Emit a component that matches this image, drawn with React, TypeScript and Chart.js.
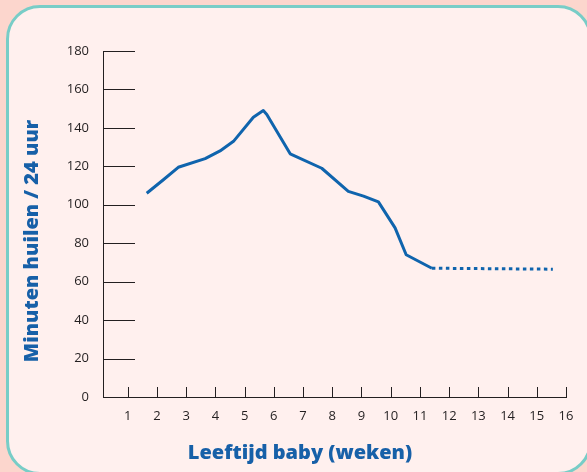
import React, { useEffect, useRef } from "react";
import { Chart, registerables } from "chart.js";

Chart.register(...registerables);

// ---- data ----
const solidWeeks = [1.65, 2.22, 2.73, 3.65, 4.16, 4.62, 5.3, 5.64, 5.76, 6.56, 7.64, 8.55, 9.07, 9.58, 10.15, 10.53, 11.41];
const solidMinutes = [106, 113, 119.5, 124, 128, 133, 145.5, 149, 147, 126.5, 119, 107, 104.5, 101.5, 88, 74, 67];
const dottedWeeks = [11.41, 15.55];
const dottedMinutes = [67, 66.5];
const weekTicks = [1, 2, 3, 4, 5, 6, 7, 8, 9, 10, 11, 12, 13, 14, 15, 16];
const minuteTicks = [0, 20, 40, 60, 80, 100, 120, 140, 160, 180];
const xTitle = "Leeftijd baby (weken)";
const yTitle = "Minuten huilen / 24 uur";

const LINE = "#0f64ad";
const TITLE = "#1760a8";
const INK = "#231f20";

const tickMarks = {
  id: "tickMarks",
  afterDraw(chart: any) {
    const { ctx, chartArea, scales } = chart;
    ctx.save();
    ctx.strokeStyle = INK;
    ctx.lineWidth = 1;
    ctx.beginPath();
    for (const v of minuteTicks) {
      if (v === 0) continue;
      const y = Math.round(scales.y.getPixelForValue(v)) + 0.5;
      ctx.moveTo(chartArea.left, y);
      ctx.lineTo(chartArea.left + 32, y);
    }
    for (const w of weekTicks) {
      const x = Math.round(scales.x.getPixelForValue(w)) + 0.5;
      ctx.moveTo(x, chartArea.bottom);
      ctx.lineTo(x, chartArea.bottom - 10);
    }
    ctx.stroke();

    ctx.fillStyle = TITLE;
    ctx.font = '800 20px "Open Sans"';
    ctx.textAlign = "center";
    ctx.textBaseline = "middle";
    ctx.fillText(xTitle, 300, 453);
    ctx.translate(32.5, 241);
    ctx.rotate(-Math.PI / 2);
    ctx.fillText(yTitle, 0, 0);
    ctx.restore();
  },
};

export default function App() {
  const ref = useRef<HTMLCanvasElement | null>(null);
  useEffect(() => {
    if (!ref.current) return;
    Chart.defaults.font.family = '"Open Sans", sans-serif';
    const chart = new Chart(ref.current, {
      type: "line",
      data: {
        datasets: [
          {
            data: solidWeeks.map((w, i) => ({ x: w, y: solidMinutes[i] })),
            borderColor: LINE,
            borderWidth: 3,
            pointRadius: 0,
            tension: 0,
            borderJoinStyle: "round",
          },
          {
            data: dottedWeeks.map((w, i) => ({ x: w, y: dottedMinutes[i] })),
            borderColor: LINE,
            borderWidth: 3,
            pointRadius: 0,
            borderDash: [3.5, 3.5],
          },
        ],
      },
      options: {
        animation: false,
        responsive: false,
        devicePixelRatio: 1,
        layout: { padding: { left: 0, top: 51, right: 21, bottom: 0 } },
        plugins: { legend: { display: false }, tooltip: { enabled: false } },
        scales: {
          x: {
            type: "linear",
            min: 0.154,
            max: 16,
            afterBuildTicks: (s: any) => {
              s.ticks = weekTicks.map((v) => ({ value: v }));
            },
            afterFit: (s: any) => {
              s.height = 75;
            },
            grid: { display: true, drawOnChartArea: false, drawTicks: false },
            border: { display: true, color: INK, width: 1 },
            ticks: { color: INK, font: { size: 13 }, padding: 11, maxRotation: 0, autoSkip: false },
          },
          y: {
            min: 0,
            max: 180,
            afterBuildTicks: (s: any) => {
              s.ticks = minuteTicks.map((v) => ({ value: v }));
            },
            afterFit: (s: any) => {
              s.width = 103;
            },
            grid: { display: true, drawOnChartArea: false, drawTicks: false },
            border: { display: true, color: INK, width: 1 },
            ticks: { color: INK, font: { size: 13, weight: "500" }, padding: 14 },
          },
        },
      },
      plugins: [tickMarks],
    });
    return () => chart.destroy();
  }, []);

  return (
    <div style={{ position: "absolute", left: 0, top: 0, width: 587, height: 472, overflow: "hidden", background: "#fcd6cd" }}>
      <div
        style={{
          position: "absolute",
          left: 6,
          top: 5,
          width: 586,
          height: 470,
          boxSizing: "border-box",
          border: "3px solid #78cdc7",
          borderRadius: 34,
          background: "#fff0ee",
        }}
      />
      <canvas ref={ref} width={587} height={472} style={{ position: "absolute", left: 0, top: 0, width: 587, height: 472 }} />
    </div>
  );
}
